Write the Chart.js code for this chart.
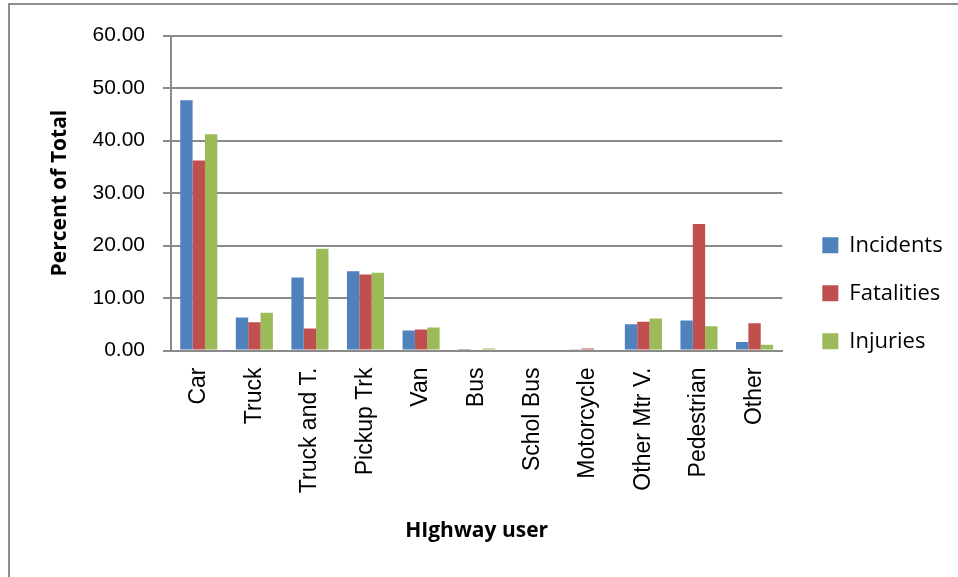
<!DOCTYPE html>
<html>
<head>
<meta charset="utf-8">
<script src="https://cdn.jsdelivr.net/npm/chart.js@4/dist/chart.umd.min.js"></script>
<style>
  html, body { margin: 0; padding: 0; background: #fff; overflow: hidden; }
  .frame {
    position: absolute; left: 8px; top: 3px;
    width: 1000px; height: 700px;
    border: 2px solid #8e8e8e;
  }
  .frame canvas { display: block; }
</style>
</head>
<body>
<div class="frame"><canvas id="chart" width="948" height="572"></canvas></div>
<script>
const categories = ['Car', 'Truck', 'Truck and T.', 'Pickup Trk', 'Van', 'Bus',
  'Schol Bus', 'Motorcycle', 'Other Mtr V.', 'Pedestrian', 'Other'];
const incidents  = [47.7, 6.3, 13.9, 15.1, 3.8, 0.1, 0.0, 0.25, 5.0, 5.7, 1.6];
const fatalities = [36.2, 5.4, 4.2, 14.5, 4.0, 0.0, 0.0, 0.4, 5.5, 24.1, 5.2];
const injuries   = [41.2, 7.2, 19.4, 14.8, 4.4, 0.4, 0.0, 0.2, 6.1, 4.6, 1.1];
const yTicks = [0, 10, 20, 30, 40, 50, 60];

const gridGray = '#8a8a8a';
const titleFont = { family: 'Open Sans', size: 21, weight: 'bold' };

new Chart(document.getElementById('chart'), {
  type: 'bar',
  data: {
    labels: categories,
    datasets: [
      { label: 'Incidents',  data: incidents,  backgroundColor: '#4F81BD' },
      { label: 'Fatalities', data: fatalities, backgroundColor: '#C0504D' },
      { label: 'Injuries',   data: injuries,   backgroundColor: '#9BBB59' }
    ]
  },
  options: {
    responsive: false,
    animation: false,
    categoryPercentage: 0.667,
    barPercentage: 1,
    layout: { padding: { left: 33, right: 11, top: 29, bottom: 29.5 } },
    plugins: {
      tooltip: { enabled: false },
      legend: {
        position: 'right',
        // blank title only nudges the entries down a little
        title: { display: true, text: '', padding: { top: 5, bottom: 0 }, font: { size: 0 } },
        labels: {
          boxWidth: 16,
          boxHeight: 16,
          padding: 26,
          color: '#000',
          font: { family: 'Open Sans', size: 22 }
        }
      }
    },
    scales: {
      x: {
        grid: { drawOnChartArea: false, drawTicks: false },
        border: { color: gridGray, width: 2 },
        ticks: {
          autoSkip: false,
          minRotation: 90,
          maxRotation: 90,
          padding: 17,
          color: '#000',
          font: { family: 'Liberation Sans', size: 23 }
        },
        title: { display: true, text: 'HIghway user', color: '#000', font: titleFont },
        afterFit(scale) { scale.height = 197; }
      },
      y: {
        min: yTicks[0],
        max: yTicks[yTicks.length - 1],
        grid: { color: gridGray, lineWidth: 2, tickLength: 8 },
        border: { color: gridGray, width: 2 },
        afterBuildTicks(scale) { scale.ticks = yTicks.map(v => ({ value: v })); },
        ticks: {
          padding: 18,
          color: '#000',
          font: { family: 'Liberation Sans', size: 21 },
          callback: v => v.toFixed(2)
        },
        title: { display: true, text: 'Percent of Total', color: '#000', font: titleFont },
        afterFit(scale) { scale.width = 128; }
      },
      // empty spacer between the plot and the legend
      gap: {
        position: 'right',
        grid: { display: false },
        border: { display: false },
        ticks: { display: false },
        afterFit(scale) { scale.width = 14; }
      }
    }
  }
});
</script>
</body>
</html>
